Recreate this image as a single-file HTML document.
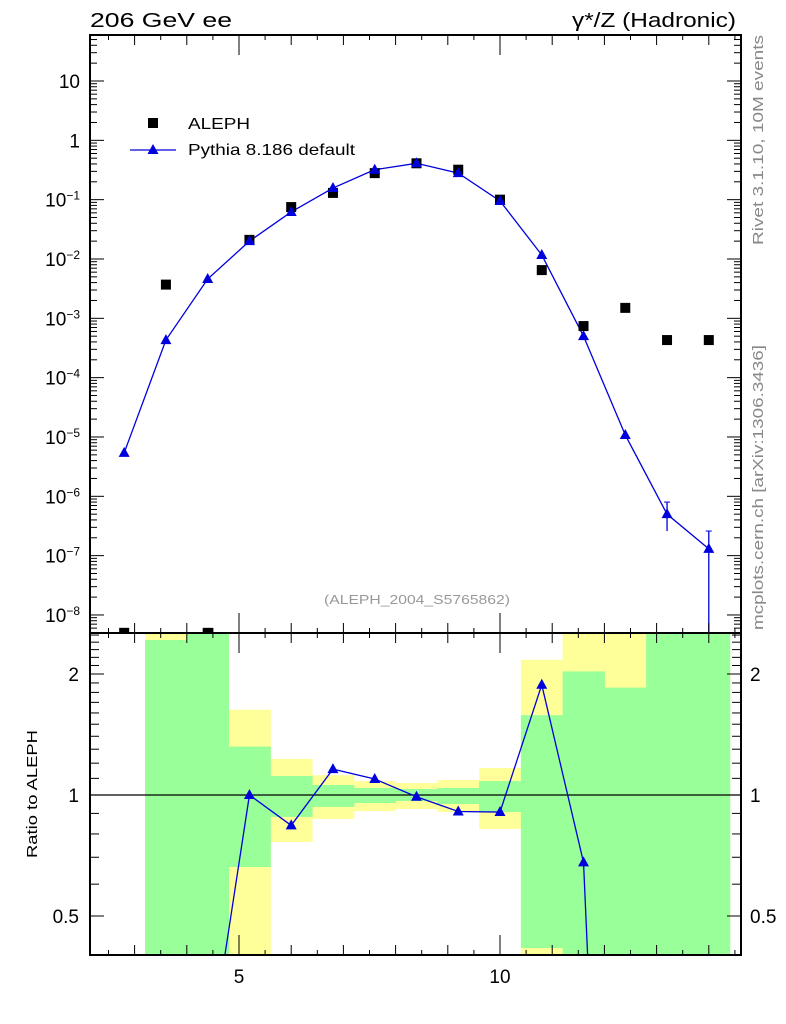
<!DOCTYPE html>
<html><head><meta charset="utf-8"><style>
html,body{margin:0;padding:0;background:#fff;overflow:hidden;width:786px;height:1024px;}
svg{display:block;}
svg text{font-family:"Liberation Sans",sans-serif;}
</style></head><body>
<svg id="c" width="786" height="1024" xmlns="http://www.w3.org/2000/svg">
<text x="90" y="27" font-size="20" textLength="142" lengthAdjust="spacingAndGlyphs">206 GeV ee</text>
<text x="572" y="27" font-size="20" textLength="164" lengthAdjust="spacingAndGlyphs">γ*/Z (Hadronic)</text>
<text transform="translate(763,245) rotate(-90)" font-size="15" fill="#888" textLength="210" lengthAdjust="spacingAndGlyphs">Rivet 3.1.10,  10M events</text>
<text transform="translate(763,630) rotate(-90)" font-size="15" fill="#888" textLength="285" lengthAdjust="spacingAndGlyphs">mcplots.cern.ch [arXiv:1306.3436]</text>
<text x="324" y="604" font-size="13" fill="#999" textLength="186" lengthAdjust="spacingAndGlyphs">(ALEPH_2004_S5765862)</text>
<text transform="translate(37,858) rotate(-90)" font-size="15" textLength="128" lengthAdjust="spacingAndGlyphs">Ratio to ALEPH</text>
<g id="g"></g>
</svg>
<script>
const xs=[2.8,3.6,4.4,5.2,6.0,6.8,7.6,8.4,9.2,10.0,10.8,11.6,12.4,13.2,14.0];
const aleph=[5e-9,3.7e-3,5e-9,0.021,0.075,0.13,0.28,0.41,0.32,0.10,0.0065,7.4e-4,1.5e-3,4.3e-4,4.3e-4];
const pythia=[5.4e-6,4.3e-4,4.6e-3,0.020,0.062,0.157,0.32,0.41,0.28,0.095,0.0117,5e-4,1.08e-5,5e-7,1.3e-7];
const pyErrLo=[0,0,0,0,0,0,0,0,0,0,0,0,0,2.6e-7,1e-9];
const pyErrHi=[0,0,0,0,0,0,0,0,0,0,0,0,0,8e-7,2.6e-7];
const ratioX=[4.4,5.2,6.0,6.8,7.6,8.4,9.2,10.0,10.8,11.6,12.4];
const ratio=[0.21,1.0,0.84,1.16,1.096,0.99,0.91,0.907,1.88,0.68,0.003];
const binLo=[3.2,4.0,4.8,5.6,6.4,7.2,8.0,8.8,9.6,10.4,11.2,12.0,12.8,13.6];
const yelLo=[0.1,0.1,0.1,0.764,0.872,0.912,0.923,0.907,0.823,0.1,0.1,0.1,0.1,0.1];
const yelHi=[3,3,1.63,1.23,1.12,1.083,1.071,1.09,1.167,2.17,3,3,3,2.27];
const grnLo=[0.1,0.1,0.662,0.882,0.934,0.955,0.966,0.95,0.907,0.416,0.1,0.1,0.1,0.1];
const grnHi=[2.43,3,1.32,1.115,1.059,1.041,1.035,1.041,1.083,1.58,2.03,1.85,3,3];
const yTickVals=[10,1,0.1,0.01,1e-3,1e-4,1e-5,1e-6,1e-7,1e-8];
const yTickLabels=["10","1","10<tspan dy='-7' font-size='12'>−1</tspan>","10<tspan dy='-7' font-size='12'>−2</tspan>","10<tspan dy='-7' font-size='12'>−3</tspan>","10<tspan dy='-7' font-size='12'>−4</tspan>","10<tspan dy='-7' font-size='12'>−5</tspan>","10<tspan dy='-7' font-size='12'>−6</tspan>","10<tspan dy='-7' font-size='12'>−7</tspan>","10<tspan dy='-7' font-size='12'>−8</tspan>"];
const ratioTickVals=[0.5,1,2];
const ratioTickLabels=["0.5","1","2"];
const xTickVals=[5,10];
const xTickLabels=["5","10"];

const L=90,R=741,T=35,MB=633,RB=955;
const X=v=>239+(v-5)*52.2;
const Y=v=>81+(1-Math.log10(v))*59.33;
const RY=v=>795-Math.log2(v)*121;
const g=document.getElementById('g');
const NS='http://www.w3.org/2000/svg';
function mk(t,a,p){const e=document.createElementNS(NS,t);for(const k in a)e.setAttribute(k,a[k]);(p||g).appendChild(e);return e;}
const clipDefs=mk('defs',{});
const cp1=mk('clipPath',{id:'cm'},clipDefs);mk('rect',{x:L,y:T,width:R-L,height:MB-T},cp1);
const cp2=mk('clipPath',{id:'cr'},clipDefs);mk('rect',{x:L,y:MB,width:R-L,height:RB-MB},cp2);
const gm=mk('g',{'clip-path':'url(#cm)'});
const gr=mk('g',{'clip-path':'url(#cr)'});
const cy=(y,lo,hi)=>Math.max(lo,Math.min(hi,y));
binLo.forEach((b,i)=>{
 const y1=cy(RY(yelHi[i]),MB-2,RB+2),y2=cy(RY(yelLo[i]),MB-2,RB+2);
 const y=mk('rect',{x:X(b),width:X(b+0.8)-X(b)+0.5,y:y1,height:y2-y1,fill:'#ffff99'},gr);
 
 
});
binLo.forEach((b,i)=>{
 const y1=cy(RY(grnHi[i]),MB-2,RB+2),y2=cy(RY(grnLo[i]),MB-2,RB+2);
 const q=mk('rect',{x:X(b),width:X(b+0.8)-X(b)+0.5,y:y1,height:y2-y1,fill:'#99ff99'},gr);
 
 
});
mk('line',{x1:L,x2:R,y1:RY(1),y2:RY(1),stroke:'#000','stroke-width':1.2},gr);
// clip ratio polyline to panel bottom
const rp=ratioX.map((x,i)=>[X(x),RY(ratio[i])]);
const pts=[];
for(let i=0;i<rp.length;i++){
 const [x,y]=rp[i];
 if(i>0){const [px,py]=rp[i-1];
  if((py>RB)!==(y>RB)){const t=(RB+2-py)/(y-py);pts.push([px+t*(x-px),RB+2]);}}
 if(y<=RB)pts.push([x,y]);
}
const rl=mk('polyline',{points:pts.map(p=>p[0]+','+p[1]).join(' '),fill:'none',stroke:'#0000dd','stroke-width':1.3},gr);


function tri(x,y,p){const t=mk('polygon',{points:`${x},${y-6} ${x-5.5},${y+4} ${x+5.5},${y+4}`,fill:'#0000dd'},p);return t;}
ratioX.forEach((x,i)=>{if(RY(ratio[i])>RB+6)return;const t=tri(X(x),RY(ratio[i]),gr);
 
 });
const pl=mk('polyline',{points:xs.map((x,i)=>X(x)+','+Y(pythia[i])).join(' '),fill:'none',stroke:'#0000dd','stroke-width':1.3},gm);


xs.forEach((x,i)=>{
 if(pyErrHi[i]){mk('line',{x1:X(x),x2:X(x),y1:Y(pyErrHi[i]),y2:cy(Y(pyErrLo[i]),T,MB),stroke:'#0000dd','stroke-width':1.3},gm);
  mk('line',{x1:X(x)-3,x2:X(x)+3,y1:Y(pyErrHi[i]),y2:Y(pyErrHi[i]),stroke:'#0000dd'},gm);}
 const s=mk('rect',{x:X(x)-5,y:cy(Y(aleph[i]),T,MB+5)-5,width:10,height:10,fill:'#000'},gm);
 
 
 const t=tri(X(x),Y(pythia[i]),gm);
 
 
});
mk('rect',{x:L,y:T,width:R-L,height:MB-T,fill:'none',stroke:'#000','stroke-width':2});
mk('rect',{x:L,y:MB,width:R-L,height:RB-MB,fill:'none',stroke:'#000','stroke-width':2});
for(let v=2.5;v<=14.6;v+=0.5){const big=Math.abs(v%5)<1e-6,mid=Math.abs(v%1)<1e-6;const len=big?20:mid?10:5;
 [[T,1],[MB,-1],[MB,1],[RB,-1]].forEach(([y0,d])=>mk('line',{x1:X(v),x2:X(v),y1:y0,y2:y0+d*len,stroke:'#000'}));}
xTickVals.forEach((v,i)=>{const t=mk('text',{x:X(v),y:983,'font-size':19,'text-anchor':'middle'});t.textContent=xTickLabels[i];
 
 });
for(let e=-9;e<=1;e++)for(let m=1;m<10;m++){const v=m*Math.pow(10,e);const y=Y(v);if(y<T||y>MB)continue;const len=m==1?14:7;
 mk('line',{x1:L,x2:L+len,y1:y,y2:y,stroke:'#000'});mk('line',{x1:R,x2:R-len,y1:y,y2:y,stroke:'#000'});}
yTickVals.forEach((v,i)=>{const t=mk('text',{x:80,y:Y(v)+7,'font-size':19,'text-anchor':'end'});t.innerHTML=yTickLabels[i];
 
 });
for(let v=0.4;v<=2.55;v+=0.1){const y=RY(v);if(y<MB||y>RB)continue;const maj=ratioTickVals.some(r=>Math.abs(r-v)<1e-6);const len=maj?14:9;
 mk('line',{x1:L,x2:L+len,y1:y,y2:y,stroke:'#000'});mk('line',{x1:R,x2:R-len,y1:y,y2:y,stroke:'#000'});}
ratioTickVals.forEach((v,i)=>{[[79,'end'],[750,'start']].forEach(([x,a])=>{const t=mk('text',{x:x,y:RY(v)+7,'font-size':19,'text-anchor':a});t.textContent=ratioTickLabels[i];
 
 });});
const ls=mk('rect',{x:148,y:118,width:10,height:10,fill:'#000'});


const lt=mk('text',{x:188,y:129,'font-size':16,textLength:62,lengthAdjust:'spacingAndGlyphs'});lt.textContent='ALEPH';


mk('line',{x1:130,x2:176,y1:150,y2:150,stroke:'#0000dd','stroke-width':1.3});
tri(153,150);
const lp=mk('text',{x:188,y:155,'font-size':16,textLength:167,lengthAdjust:'spacingAndGlyphs'});lp.textContent='Pythia 8.186 default';


</script>
</body></html>
